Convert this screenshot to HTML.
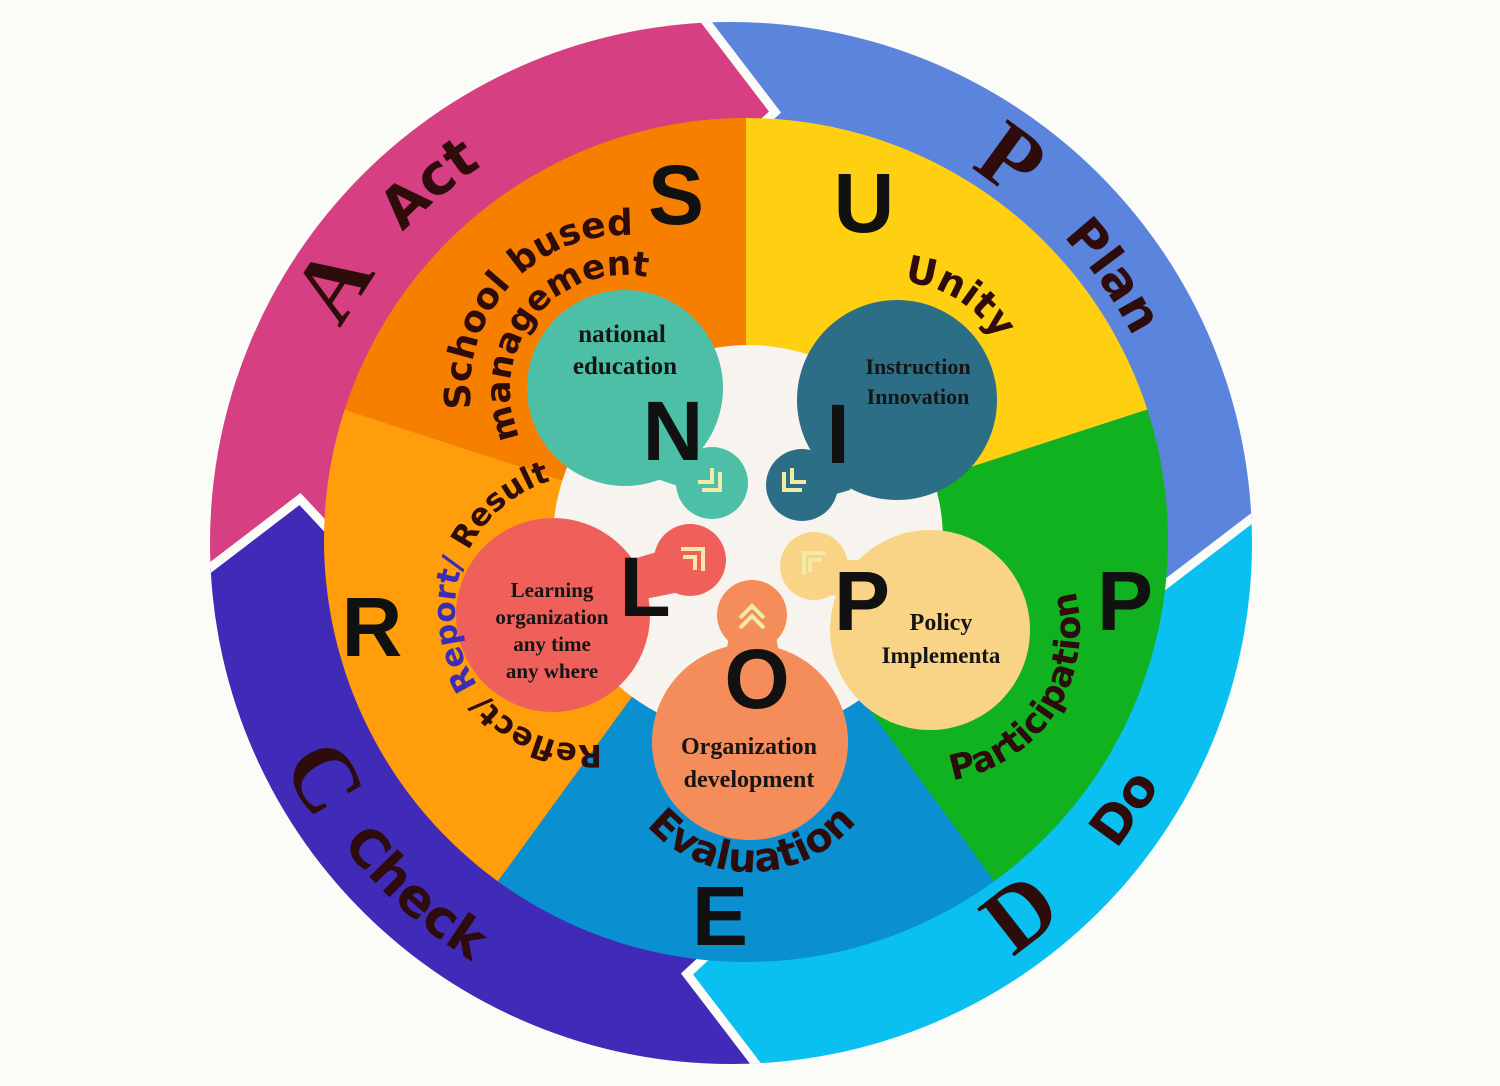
<!DOCTYPE html>
<html><head><meta charset="utf-8"><style>
html,body{margin:0;padding:0;background:#fbfbf8;}
svg{display:block}
.h{font-family:"DejaVu Sans","Liberation Sans",sans-serif;font-weight:bold;fill:#2e0c0c;}
.s{font-family:"Liberation Serif",serif;font-weight:bold;fill:#2e0c0c;}
.big{font-family:"Liberation Sans",sans-serif;font-weight:bold;fill:#111;}
.bt{font-family:"Liberation Serif",serif;font-weight:bold;fill:#151515;text-anchor:middle;}
</style></head><body>
<svg width="1500" height="1086" viewBox="0 0 1500 1086" xmlns="http://www.w3.org/2000/svg">
<defs>
<clipPath id="oc"><circle cx="731" cy="543" r="521"/></clipPath>
<clipPath id="ic"><circle cx="746" cy="540" r="422"/></clipPath>
<path id="cw445" d="M1176,543 A445,445 0 1 1 286,543 A445,445 0 1 1 1176,543"/>
<path id="cw452" d="M1183,543 A452,452 0 1 1 279,543 A452,452 0 1 1 1183,543"/>
<path id="ccw500" d="M231,543 A500,500 0 1 0 1231,543 A500,500 0 1 0 231,543"/>
<path id="ccw492" d="M239,543 A492,492 0 1 0 1223,543 A492,492 0 1 0 239,543"/>
<path id="sch" d="M780,390 A155,155 0 1 1 470,390 A155,155 0 1 1 780,390"/>
<path id="man" d="M740,390 A115,115 0 1 1 510,390 A115,115 0 1 1 740,390"/>
<path id="uni" d="M1013,400 A118,118 0 1 1 777,400 A118,118 0 1 1 1013,400"/>
<path id="ref" d="M725,610 A135,135 0 1 1 455,610 A135,135 0 1 1 725,610"/>
<path id="eva" d="M612,734 A138,138 0 1 0 888,734 A138,138 0 1 0 612,734"/>
<path id="par" d="M776,630 A152,152 0 1 0 1080,630 A152,152 0 1 0 776,630"/>
</defs>

<g clip-path="url(#oc)">
<polygon fill="#d63f82" points="731,543 328,529 300,499 198,577 0,600 0,0 690,0 697,10 775,112 745,140"/>
<polygon fill="#5b84dd" points="731,543 745,140 775,112 697,10 690,0 1500,0 1500,509 1264,509 1162,587 1134,557"/>
<polygon fill="#0ac0f0" points="731,543 1134,557 1162,587 1264,509 1500,509 1500,1086 765,1086 765,1076 687,974 717,946"/>
<polygon fill="#3f2bb8" points="731,543 717,946 687,974 765,1076 765,1086 0,1086 0,577 198,577 300,499 328,529"/>
<g fill="none" stroke="#fbfbf8" stroke-width="9" stroke-linejoin="miter">
<polyline points="697,10 775,112 745,140"/>
<polyline points="1264,509 1162,587 1134,557"/>
<polyline points="765,1076 687,974 717,946"/>
<polyline points="198,577 300,499 328,529"/>
</g>
</g>

<g clip-path="url(#ic)">
<polygon fill="#f77f00" points="746,540 0,298 0,0 746,0"/>
<polygon fill="#ffd012" points="746,540 746,0 1500,0 1500,295"/>
<polygon fill="#10b21f" points="746,540 1500,295 1500,1086 1143,1086"/>
<polygon fill="#0a8fd0" points="746,540 1143,1086 349,1086"/>
<polygon fill="#ff9e0a" points="746,540 349,1086 0,1086 0,298"/>
</g>
<circle cx="748" cy="540" r="195" fill="#f7f3ee"/>

<circle cx="625" cy="388" r="98" fill="#4dbfa6"/>
<circle cx="712" cy="483" r="36" fill="#4dbfa6"/>
<path d="M660,450 L700,450 L720,470 L690,490 L660,480Z" fill="#4dbfa6"/>
<circle cx="897" cy="400" r="100" fill="#2c6e85"/>
<circle cx="802" cy="485" r="36" fill="#2c6e85"/>
<path d="M820,460 L860,455 L850,490 L815,500Z" fill="#2c6e85"/>
<circle cx="553" cy="615" r="97" fill="#f0605b"/>
<circle cx="690" cy="560" r="36" fill="#f0605b"/>
<path d="M630,560 L680,545 L690,590 L640,600Z" fill="#f0605b"/>
<circle cx="750" cy="742" r="98" fill="#f58d5a"/>
<circle cx="752" cy="615" r="35" fill="#f58d5a"/>
<path d="M730,630 L775,630 L780,660 L725,660Z" fill="#f58d5a"/>
<circle cx="930" cy="630" r="100" fill="#f9d487"/>
<circle cx="814" cy="566" r="34" fill="#f9d487"/>
<path d="M830,560 L860,560 L860,600 L830,595Z" fill="#f9d487"/>

<g fill="none" stroke="#f3eaa8" stroke-width="4">
<polyline points="698,482 712,482 712,468"/><polyline points="702,490 720,490 720,472"/>
<polyline points="806,482 792,482 792,468"/><polyline points="802,490 784,490 784,472"/>
<polyline points="683,557 695,557 695,570"/><polyline points="681,549 703,549 703,571"/>
<polyline points="740,618 752,606 764,618"/><polyline points="740,628 752,616 764,628"/>
<polyline points="822,560 810,560 810,572"/><polyline points="826,553 804,553 804,575"/>
</g>

<g class="big" font-size="84" text-anchor="middle">
<text x="676" y="224">S</text>
<text x="864" y="232">U</text>
<text x="1125" y="630">P</text>
<text x="720" y="945">E</text>
<text x="372" y="656">R</text>
<text x="673" y="460">N</text>
<text x="838" y="463">I</text>
<text x="645" y="616">L</text>
<text x="757" y="708">O</text>
<text x="862" y="630">P</text>
</g>

<text class="bt" x="622" y="342" font-size="25">national</text>
<text class="bt" x="625" y="374" font-size="25">education</text>
<text class="bt" x="918" y="374" font-size="22">Instruction</text>
<text class="bt" x="918" y="404" font-size="22">Innovation</text>
<text class="bt" x="552" y="597" font-size="21">Learning</text>
<text class="bt" x="552" y="624" font-size="21">organization</text>
<text class="bt" x="552" y="651" font-size="21">any time</text>
<text class="bt" x="552" y="678" font-size="21">any where</text>
<text class="bt" x="749" y="754" font-size="24">Organization</text>
<text class="bt" x="749" y="787" font-size="24">development</text>
<text class="bt" x="941" y="630" font-size="24">Policy</text>
<text class="bt" x="941" y="663" font-size="23">Implementa</text>

<text class="s" font-size="92" text-anchor="middle"><textPath href="#cw445" startOffset="1654">A</textPath></text>
<text class="h" font-size="56" text-anchor="middle"><textPath href="#cw452" startOffset="1814">Act</textPath></text>
<text class="s" font-size="92" text-anchor="middle"><textPath href="#cw445" startOffset="2377">P</textPath></text>
<text class="h" font-size="50" text-anchor="middle"><textPath href="#cw452" startOffset="2564">Plan</textPath></text>
<text class="s" font-size="92" text-anchor="middle"><textPath href="#ccw500" startOffset="262">C</textPath></text>
<text class="h" font-size="52" text-anchor="middle"><textPath href="#ccw492" startOffset="412">Check</textPath></text>
<text class="s" font-size="92" text-anchor="middle"><textPath href="#ccw500" startOffset="1117">D</textPath></text>
<text class="h" font-size="52" text-anchor="middle"><textPath href="#ccw492" startOffset="1254">Do</textPath></text>

<text class="h" font-size="36" text-anchor="middle"><textPath href="#sch" startOffset="603">School bused</textPath></text>
<text class="h" font-size="34" text-anchor="middle"><textPath href="#man" startOffset="438">management</textPath></text>
<text class="h" font-size="38" text-anchor="middle"><textPath href="#uni" startOffset="622">Unity</textPath></text>
<text class="h" font-size="31" text-anchor="middle"><textPath href="#ref" startOffset="398">Reflect/ <tspan fill="#3a2db8">Report/</tspan> Result</textPath></text>
<text class="h" font-size="40" text-anchor="middle"><textPath href="#eva" startOffset="219">Evaluation</textPath></text>
<text class="h" font-size="35" text-anchor="middle"><textPath href="#par" startOffset="390">Participation</textPath></text>
</svg>
</body></html>
